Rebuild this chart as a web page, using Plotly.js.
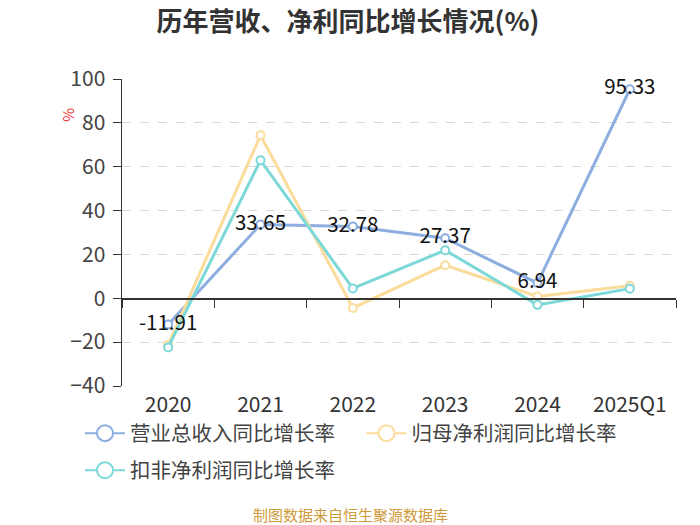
<!DOCTYPE html>
<html>
<head>
<meta charset="utf-8">
<script src="https://cdn.plot.ly/plotly-3.0.1.min.js"></script>
<style>html,body{margin:0;padding:0;background:#fff;}#chart{width:700px;height:525px;}</style>
</head>
<body>
<div id="chart"></div>
<script>
const categories = ["2020", "2021", "2022", "2023", "2024", "2025Q1"];
const revenueGrowth = [-11.91, 33.65, 32.78, 27.37, 6.94, 95.33];
const netProfitGrowth = [-21.3, 74.3, -4.4, 15.1, 0.8, 5.7];
const deductedProfitGrowth = [-22.4, 62.9, 4.5, 21.9, -3.0, 4.4];
const seriesNames = ["营业总收入同比增长率", "归母净利润同比增长率", "扣非净利润同比增长率"];
const seriesColors = ["#8eaee0", "#fbdc9a", "#7dd8d8"];
const yTicks = [-40, -20, 0, 20, 40, 60, 80, 100];

const font = "'Noto Sans CJK SC', 'Noto Sans', sans-serif";
function series(y, name, color) {
  return {
    x: categories, y: y, name: name, type: "scatter",
    mode: "lines+markers", showlegend: false,
    line: {color: color, width: 3},
    marker: {symbol: "circle", size: 8, color: "#fff", line: {color: color, width: 2}},
    cliponaxis: false,
    hoverinfo: "x+y"
  };
}
function legendEntry(name, color, legend) {
  return {
    x: categories, y: categories.map(() => null), name: name, type: "scatter",
    mode: "lines+markers", legend: legend, showlegend: true, hoverinfo: "skip",
    line: {color: color, width: 2},
    marker: {symbol: "circle", size: 16, color: "#fff", line: {color: color, width: 2}}
  };
}
const traces = [
  series(revenueGrowth, seriesNames[0], seriesColors[0]),
  series(netProfitGrowth, seriesNames[1], seriesColors[1]),
  series(deductedProfitGrowth, seriesNames[2], seriesColors[2]),
  {x: categories, y: revenueGrowth, type: "scatter", mode: "text", showlegend: false,
   text: revenueGrowth.map(v => v.toFixed(2)), textposition: "middle center",
   textfont: {size: 20.5, color: "#111", family: font}, cliponaxis: false, hoverinfo: "skip"},
  {x: categories, y: categories.map(() => null), xaxis: "x2", type: "scatter", showlegend: false, hoverinfo: "skip"},
  legendEntry(seriesNames[0], seriesColors[0], "legend"),
  legendEntry(seriesNames[1], seriesColors[1], "legend2"),
  legendEntry(seriesNames[2], seriesColors[2], "legend3")
];

const L = 122, W = 554, B = 385.7, H = 306.7;
const px = v => (v - L) / W, py = v => (B - v) / H;
const legendCommon = {orientation: "h", xanchor: "left", yanchor: "middle",
  font: {size: 20.5, color: "#444", family: font}, itemwidth: 40, bgcolor: "rgba(0,0,0,0)"};

const layout = {
  width: 700, height: 525,
  margin: {l: 122, r: 24, t: 79, b: 139},
  paper_bgcolor: "#fff", plot_bgcolor: "#fff",
  font: {family: font, color: "#333"},
  title: {text: "<b>历年营收、净利同比增长情况(%)</b>", x: 0.497, xanchor: "center", y: 0.958, yanchor: "middle",
          font: {size: 26, color: "#333", family: font}},
  showlegend: true,
  legend: Object.assign({}, legendCommon, {x: px(80), y: py(433)}),
  legend2: Object.assign({}, legendCommon, {x: px(361.5), y: py(433)}),
  legend3: Object.assign({}, legendCommon, {x: px(80), y: py(470)}),
  xaxis: {type: "category", categoryorder: "array", categoryarray: categories,
          range: [-0.5, 5.5], showline: false, showgrid: false, zeroline: false, ticks: "",
          tickfont: {size: 21, color: "#333"}, ticklabelstandoff: 4, fixedrange: true},
  xaxis2: {type: "category", overlaying: "x", matches: "x", anchor: "free", position: 40/140,
           side: "bottom", showline: true, linecolor: "#333", linewidth: 1.5,
           ticks: "outside", tickson: "boundaries", ticklen: 8, tickcolor: "#333",
           showticklabels: false, showgrid: false, zeroline: false},
  yaxis: {range: [-40, 100], tickvals: yTicks, showline: true, linecolor: "#333", linewidth: 1.5,
          ticks: "outside", ticklen: 8, tickcolor: "#333", zeroline: false,
          showgrid: true, gridcolor: "#d9d9d9", griddash: "dash", gridwidth: 1.2,
          tickfont: {size: 21, color: "#444"}, ticklabelstandoff: 3},
  annotations: [
    {text: "制图数据来自恒生聚源数据库", xref: "paper", yref: "paper", x: px(350), y: py(514.5),
     xanchor: "center", yanchor: "middle", showarrow: false,
     font: {size: 15, color: "#cf9b3a", family: font}},
    {text: "%", xref: "paper", yref: "paper", x: px(66.7), y: py(115),
     xanchor: "center", yanchor: "middle", showarrow: false, textangle: -90,
     font: {size: 15, color: "#ee3333", family: font}}
  ]
};
Plotly.newPlot("chart", traces, layout, {displayModeBar: false, staticPlot: true});
</script>
</body>
</html>
